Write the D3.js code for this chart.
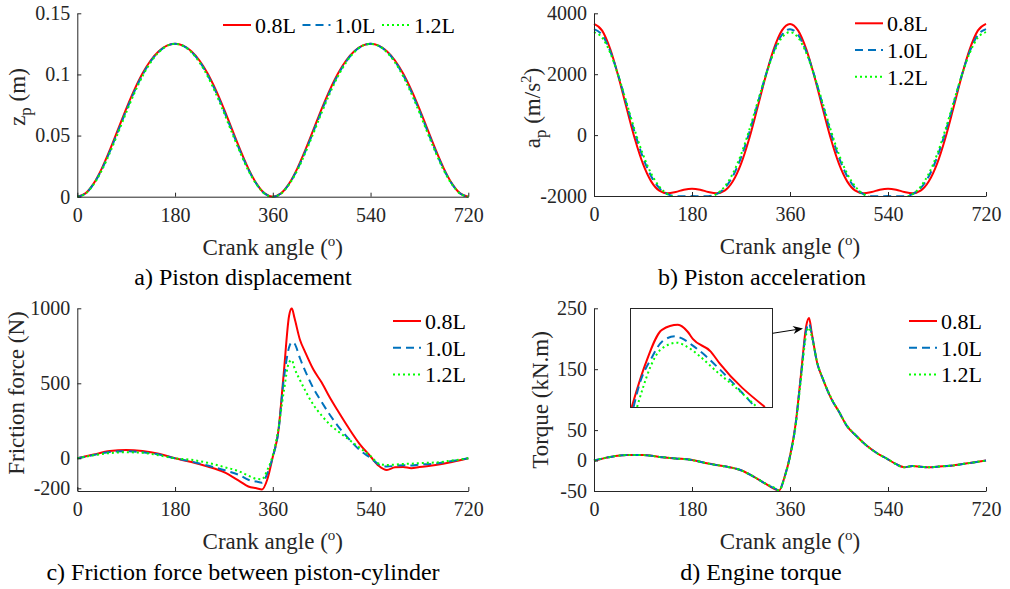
<!DOCTYPE html>
<html>
<head>
<meta charset="utf-8">
<script src="https://cdn.jsdelivr.net/npm/d3@7"></script>
<style>
    body { margin: 0; background: #fff; }
    text { font-family: "Liberation Serif", "Times New Roman", serif; }
</style>
</head>
<body>
<script>
// ---- data ----
var xTicks = [0, 180, 360, 540, 720];
var seriesNames = ["0.8L", "1.0L", "1.2L"];
var seriesColors = ["#ff0000", "#0072bd", "#00ff00"];
var seriesDash = [null, "8,5", "2,3"];

var angleAB = [0,15,30,45,60,75,90,105,120,135,150,165,180,195,210,225,240,255,270,285,300,315,330,345,360,
    375,390,405,420,435,450,465,480,495,510,525,540,555,570,585,600,615,630,645,660,675,690,705,720];

var dispRed = [0,.0027,.0107,.0230,.0383,.0550,.0719,.0874,.1008,.1114,.1190,.1235,.125,
    .1235,.1190,.1114,.1008,.0874,.0719,.0550,.0383,.0230,.0107,.0027,0,
    .0027,.0107,.0230,.0383,.0550,.0719,.0874,.1008,.1114,.1190,.1235,.125,
    .1235,.1190,.1114,.1008,.0874,.0719,.0550,.0383,.0230,.0107,.0027,0];
var dispBlue = [0,.0026,.0104,.0222,.0371,.0536,.0703,.0860,.0996,.1106,.1186,.1234,.125,
    .1234,.1186,.1106,.0996,.0860,.0703,.0536,.0371,.0222,.0104,.0026,0,
    .0026,.0104,.0222,.0371,.0536,.0703,.0860,.0996,.1106,.1186,.1234,.125,
    .1234,.1186,.1106,.0996,.0860,.0703,.0536,.0371,.0222,.0104,.0026,0];
var dispGreen = [0,.0025,.0100,.0214,.0360,.0521,.0688,.0845,.0985,.1098,.1182,.1233,.125,
    .1233,.1182,.1098,.0985,.0845,.0688,.0521,.0360,.0214,.0100,.0025,0,
    .0025,.0100,.0214,.0360,.0521,.0688,.0845,.0985,.1098,.1182,.1233,.125,
    .1233,.1182,.1098,.0985,.0845,.0688,.0521,.0360,.0214,.0100,.0025,0];

var accRed = [3650,3431,2815,1912,879,-120,-946,-1519,-1825,-1912,-1868,-1792,-1758,
    -1792,-1868,-1912,-1825,-1519,-946,-120,879,1912,2815,3431,3650,
    3431,2815,1912,879,-120,-946,-1519,-1825,-1912,-1868,-1792,-1758,
    -1792,-1868,-1912,-1825,-1519,-946,-120,879,1912,2815,3431,3650];
var accBlue = [3480,3287,2743,1939,1002,71,-738,-1349,-1740,-1939,-2006,-2010,-2004,
    -2010,-2006,-1939,-1740,-1349,-738,71,1002,1939,2743,3287,3480,
    3287,2743,1939,1002,71,-738,-1349,-1740,-1939,-2006,-2010,-2004,
    -2010,-2006,-1939,-1740,-1349,-738,71,1002,1939,2743,3287,3480];
var accGreen = [3380,3201,2693,1938,1051,156,-639,-1263,-1690,-1938,-2054,-2094,-2102,
    -2094,-2054,-1938,-1690,-1263,-639,156,1051,1938,2693,3201,3380,
    3201,2693,1938,1051,156,-639,-1263,-1690,-1938,-2054,-2094,-2102,
    -2094,-2054,-1938,-1690,-1263,-639,156,1051,1938,2693,3201,3380];

var angleCD = [0,30,60,90,120,150,180,210,240,270,300,315,330,340,350,360,370,380,390,395,
    400,410,420,435,450,465,480,500,520,540,555,570,585,600,615,630,660,690,720];

var fricRed = [0,25,48,55,48,30,0,-25,-55,-92,-155,-188,-200,-208,-140,10,175,560,950,1000,
    935,790,705,590,505,405,315,200,95,12,-50,-78,-60,-58,-66,-58,-45,-25,0];
var fricBlue = [0,22,42,47,40,25,0,-22,-48,-78,-115,-143,-155,-163,-100,10,170,520,740,775,
    765,667,580,465,375,290,215,130,55,2,-40,-55,-50,-46,-48,-42,-35,-18,0];
var fricGreen = [0,20,35,40,37,20,0,-10,-30,-58,-90,-116,-137,-140,-78,20,190,440,640,655,
    600,522,450,355,285,225,180,125,70,15,-35,-45,-42,-38,-36,-32,-28,-15,0];

var torqRed = [0,6,9,9,6,3.5,1,-5,-9.5,-16,-30,-38,-46,-49,-27,7,58,140,222,234,
    209,160,135,103,80,56,42,25,12,2,-6,-11,-9,-10,-11,-10,-8,-4,0];
var torqBlue = [0,6,9,9,6,3.5,1,-5,-9.5,-16,-30,-38,-45,-49,-27,7,57,138,215,225,
    207,160,135,103,80,56,42,25,12,2,-6,-11,-9,-10,-11,-10,-8,-4,0];
var torqGreen = [0,6,9,9,6,3.5,1,-5,-9.5,-16,-30,-38,-44,-49,-28,6,55,132,208,218,
    204,161,135,104,80,57,42,25,12,2,-6,-11,-9,-10,-11,-10,-8,-4,0];

// zoomed view of the torque peak
var insetAngRed = [387.2,388.7,390.6,392.4,393.5,394.1,396.1,397.1,402.2];
var insetRed = [215,223.5,230.6,231.6,230.2,228.7,226.2,223.8,215];
var insetAngBlue = [387.4,388.1,389.4,390.6,392.1,392.8,394.0,395.6,397.0,401.1];
var insetBlue = [215,219.8,224.8,228.2,229.3,228.9,227.5,225.2,222.8,215];
var insetAngGreen = [387.8,388.5,389.3,390.4,392.3,393.4,394.9,396.8,398.8,401.3];
var insetGreen = [215,219.1,223.1,226.5,228,227.2,225.2,222.1,219.1,215];

var axisColor = "#262626";

var svg = d3.select("body")
    .append("svg")
    .attr("width", 1010)
    .attr("height", 589);

function crankLabel(t) {
    t.append("tspan").text("Crank angle (");
    t.append("tspan").attr("font-size", "15px").attr("dy", -9).text("o");
    t.append("tspan").attr("dy", 9).text(")");
}

function drawPanel(cfg) {
    var g = svg.append("g")
        .attr("transform", "translate(" + cfg.left + ", " + cfg.top + ")");

    var x = d3.scaleLinear().domain([0, 720]).range([0, cfg.width]);
    var y = d3.scaleLinear().domain(cfg.yDomain).range([cfg.height, 0]);

    g.append("clipPath").attr("id", cfg.id + "-clip")
        .append("rect")
        .attr("x", -1).attr("y", -1)
        .attr("width", cfg.width + 2).attr("height", cfg.height + 2);

    var line = d3.line()
        .x((d) => x(d[0]))
        .y((d) => y(d[1]))
        .curve(d3.curveMonotoneX);

    cfg.series.forEach((s, i) => {
        g.append("path")
            .datum(d3.zip(cfg.angles, s))
            .attr("clip-path", "url(#" + cfg.id + "-clip)")
            .attr("fill", "none")
            .attr("stroke", seriesColors[i])
            .attr("stroke-width", 2)
            .attr("stroke-dasharray", seriesDash[i])
            .attr("d", line);
    });

    var bottomAxis = d3.axisBottom(x)
        .tickValues(xTicks)
        .tickSizeInner(-4)
        .tickSizeOuter(0)
        .tickPadding(11)
        .tickFormat((d) => String(d));
    var xg = g.append("g")
        .attr("transform", "translate(0, " + cfg.height + ")")
        .call(bottomAxis);

    var leftAxis = d3.axisLeft(y)
        .tickValues(cfg.yTicks)
        .tickSizeInner(-4)
        .tickSizeOuter(0)
        .tickPadding(7)
        .tickFormat((d) => String(d));
    var yg = g.append("g").call(leftAxis);

    [xg, yg].forEach((a) => {
        a.attr("font-family", null).attr("font-size", null);
        a.select(".domain").attr("stroke", axisColor);
        a.selectAll(".tick line").attr("stroke", axisColor);
        a.selectAll(".tick text")
            .attr("fill", axisColor)
            .style("font-size", "20px");
    });

    g.append("text")
        .attr("x", cfg.width / 2)
        .attr("y", cfg.height + 58.5)
        .attr("text-anchor", "middle")
        .attr("fill", axisColor)
        .style("font-size", "23px")
        .call(crankLabel);

    g.append("text")
        .attr("transform", "translate(" + (cfg.ylabelX - cfg.left) + ", " + (cfg.ylabelY - cfg.top) + ") rotate(-90)")
        .attr("text-anchor", "middle")
        .attr("fill", axisColor)
        .style("font-size", "23px")
        .call(cfg.ylabel);

    svg.append("text")
        .attr("x", cfg.captionX)
        .attr("y", cfg.captionY)
        .attr("text-anchor", "middle")
        .attr("fill", "#000")
        .style("font-size", "24px")
        .text(cfg.caption);

    var lg = cfg.legend;
    seriesNames.forEach((name, i) => {
        var lx = lg.x + i * lg.dx;
        var ly = lg.y + i * lg.dy;
        svg.append("line")
            .attr("x1", lx).attr("x2", lx + 28)
            .attr("y1", ly).attr("y2", ly)
            .attr("stroke", seriesColors[i])
            .attr("stroke-width", 2)
            .attr("stroke-dasharray", seriesDash[i]);
        svg.append("text")
            .attr("x", lx + 32)
            .attr("y", ly + 8)
            .attr("fill", "#000")
            .style("font-size", "22px")
            .text(name);
    });

    return { g: g, x: x, y: y };
}

drawPanel({
    id: "pa", left: 77.3, top: 13.3, width: 391, height: 183.4,
    angles: angleAB, series: [dispRed, dispBlue, dispGreen],
    yDomain: [0, 0.15], yTicks: [0, 0.05, 0.1, 0.15],
    ylabelX: 25, ylabelY: 97,
    ylabel: (t) => {
        t.append("tspan").text("z");
        t.append("tspan").attr("font-size", "17px").attr("dy", 6).text("p");
        t.append("tspan").attr("dy", -6).text(" (m)");
    },
    caption: "a) Piston displacement", captionX: 243, captionY: 285,
    legend: { x: 223, y: 25, dx: 79.5, dy: 0 }
});

drawPanel({
    id: "pb", left: 594, top: 13.3, width: 392, height: 182.7,
    angles: angleAB, series: [accRed, accBlue, accGreen],
    yDomain: [-2000, 4000], yTicks: [-2000, 0, 2000, 4000],
    ylabelX: 540, ylabelY: 108,
    ylabel: (t) => {
        t.append("tspan").text("a");
        t.append("tspan").attr("font-size", "17px").attr("dy", 6).text("p");
        t.append("tspan").attr("dy", -6).text(" (m/s");
        t.append("tspan").attr("font-size", "15px").attr("dy", -9).text("2");
        t.append("tspan").attr("dy", 9).text(")");
    },
    caption: "b) Piston acceleration", captionX: 762, captionY: 285,
    legend: { x: 855, y: 23.3, dx: 0, dy: 26.7 }
});

drawPanel({
    id: "pc", left: 77.3, top: 308.3, width: 391, height: 182.7,
    angles: angleCD, series: [fricRed, fricBlue, fricGreen],
    yDomain: [-218, 1000], yTicks: [-200, 0, 500, 1000],
    ylabelX: 24, ylabelY: 393,
    ylabel: (t) => t.text("Friction force (N)"),
    caption: "c) Friction force between piston-cylinder", captionX: 243, captionY: 580,
    legend: { x: 393, y: 321, dx: 0, dy: 26.7 }
});

drawPanel({
    id: "pd", left: 594, top: 308.3, width: 392, height: 182.7,
    angles: angleCD, series: [torqRed, torqBlue, torqGreen],
    yDomain: [-50, 250], yTicks: [-50, 0, 50, 150, 250],
    ylabelX: 548, ylabelY: 400,
    ylabel: (t) => t.text("Torque (kN.m)"),
    caption: "d) Engine torque", captionX: 761, captionY: 580,
    legend: { x: 909, y: 321, dx: 0, dy: 26.7 }
});

// inset with the magnified torque peak
var inset = { left: 630, top: 308, width: 142, height: 99 };
var ig = svg.append("g")
    .attr("transform", "translate(" + inset.left + ", " + inset.top + ")");
var ix = d3.scaleLinear().domain([387, 403]).range([0, inset.width]);
var iy = d3.scaleLinear().domain([215, 235]).range([inset.height, 0]);

ig.append("clipPath").attr("id", "inset-clip")
    .append("rect")
    .attr("width", inset.width).attr("height", inset.height);

var insetLine = d3.line()
    .x((d) => ix(d[0]))
    .y((d) => iy(d[1]))
    .curve(d3.curveMonotoneX);

[[insetAngRed, insetRed], [insetAngBlue, insetBlue], [insetAngGreen, insetGreen]].forEach((s, i) => {
    ig.append("path")
        .datum(d3.zip(s[0], s[1]))
        .attr("clip-path", "url(#inset-clip)")
        .attr("fill", "none")
        .attr("stroke", seriesColors[i])
        .attr("stroke-width", 2)
        .attr("stroke-dasharray", seriesDash[i])
        .attr("d", insetLine);
});

ig.append("rect")
    .attr("x", 0.5).attr("y", 0.5)
    .attr("width", inset.width).attr("height", inset.height)
    .attr("fill", "none")
    .attr("stroke", axisColor)
    .attr("stroke-width", 1);

// arrow from inset to the peak
var ax1 = 772.5, ay1 = 333.3, ax2 = 803, ay2 = 328.5;
var ang = Math.atan2(ay2 - ay1, ax2 - ax1);
svg.append("line")
    .attr("x1", ax1).attr("y1", ay1)
    .attr("x2", ax2 - 6 * Math.cos(ang)).attr("y2", ay2 - 6 * Math.sin(ang))
    .attr("stroke", "#000")
    .attr("stroke-width", 1);
var ah = 10, aw = 4;
svg.append("path")
    .attr("d", "M" + ax2 + "," + ay2 +
        "L" + (ax2 - ah * Math.cos(ang) + aw * Math.sin(ang)) + "," + (ay2 - ah * Math.sin(ang) - aw * Math.cos(ang)) +
        "L" + (ax2 - ah * 0.7 * Math.cos(ang)) + "," + (ay2 - ah * 0.7 * Math.sin(ang)) +
        "L" + (ax2 - ah * Math.cos(ang) - aw * Math.sin(ang)) + "," + (ay2 - ah * Math.sin(ang) + aw * Math.cos(ang)) + "Z")
    .attr("fill", "#000");
</script>
</body>
</html>
